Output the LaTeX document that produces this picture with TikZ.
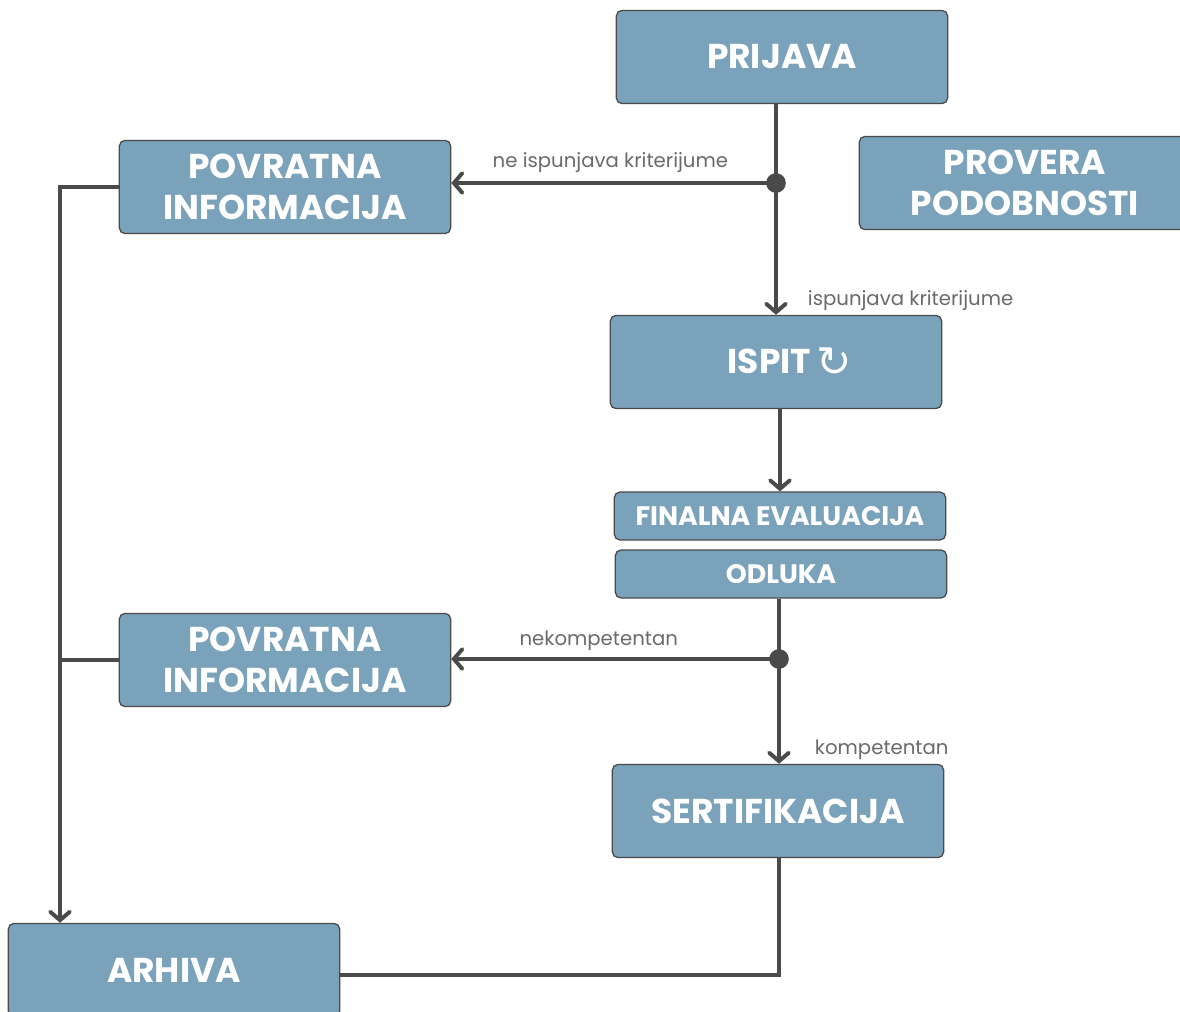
\documentclass[tikz,border=0pt]{standalone}
\usepackage{fontspec}
\setmainfont{Poppins}
\newfontfamily\symfont{DejaVu Sans}
\usetikzlibrary{arrows.meta}
\definecolor{boxblue}{HTML}{7BA2BB}
\definecolor{edgegray}{HTML}{4A4A4A}
\definecolor{labelgray}{HTML}{6A6A6A}
\tikzset{
  stage/.style={draw=edgegray, line width=0.9pt, fill=boxblue, rounded corners=4pt,
    text=white, font=\bfseries\fontsize{24.5}{29}\selectfont, align=center,
    minimum width=8.28cm, minimum height=2.33cm, inner sep=0pt},
  thin stage/.style={stage, minimum height=1.2cm, font=\bfseries\fontsize{19}{22}\selectfont},
  flow/.style={draw=edgegray, line width=2.8pt},
  arrow/.style={flow, -{Straight Barb[length=6pt,width=14pt,line cap=round]}},
  branch/.style={font=\fontsize{14}{16}\selectfont, text=labelgray},
  junction/.style={circle, fill=edgegray, inner sep=0pt, minimum size=14pt}
}
\begin{document}
\begin{tikzpicture}[x=0.025cm,y=-0.025cm]
  \useasboundingbox (0,0) rectangle (1180,1012);
  % stages
  \node[stage] (prijava) at (782,57) {PRIJAVA};
  \node[stage] (provera) at (1025,183) {PROVERA\\PODOBNOSTI};
  \node[stage] (info1) at (285,187) {POVRATNA\\INFORMACIJA};
  \node[stage] (ispit) at (776,362) {\hspace*{0.7cm}ISPIT\,{\symfont\mdseries\fontsize{30}{30}\selectfont\raisebox{-2pt}{↻}}};
  \node[thin stage] (finalna) at (780,516) {FINALNA EVALUACIJA};
  \node[thin stage] (odluka) at (781,574) {ODLUKA};
  \node[stage] (info2) at (285,660) {POVRATNA\\INFORMACIJA};
  \node[stage] (sert) at (778,811) {SERTIFIKACIJA};
  \node[stage] (arhiva) at (174,970) {ARHIVA};
  % branch points
  \coordinate (j1) at (776,183);
  \coordinate (j2) at (779,659);
  \coordinate (trunk) at (60,188);
  \coordinate (back) at (779,975);
  % flow
  \draw[flow] (j1 |- prijava.south) -- (j1);
  \draw[arrow] (j1) -- (j1 |- ispit.north);
  \draw[arrow] (j1) -- (j1 -| info1.east)
    node[branch, pos=0.51, above=3pt] (nije) {ne ispunjava kriterijume};
  \node[branch, anchor=west] (jeste) at (803,301) {ispunjava kriterijume};
  \draw[arrow] (ispit.south -| finalna.north) -- (finalna.north);
  \draw[flow] (j2 |- odluka.south) -- (j2);
  \draw[arrow] (j2) -- (j2 |- sert.north);
  \draw[arrow] (j2) -- (j2 -| info2.east)
    node[branch, pos=0.55, above=1pt] (nekomp) {nekompetentan};
  \node[branch, anchor=west] (komp) at (810,750) {kompetentan};
  % archive
  \draw[arrow] (info1.west) -- (info1.west -| trunk) -- (trunk |- arhiva.north);
  \draw[flow] (info2.west) -- (info2.west -| trunk);
  \draw[flow] (sert.south -| back) -- (back) -- (back -| arhiva.east);
  \node[junction] (dot1) at (j1) {};
  \node[junction] (dot2) at (j2) {};
\end{tikzpicture}
\end{document}
